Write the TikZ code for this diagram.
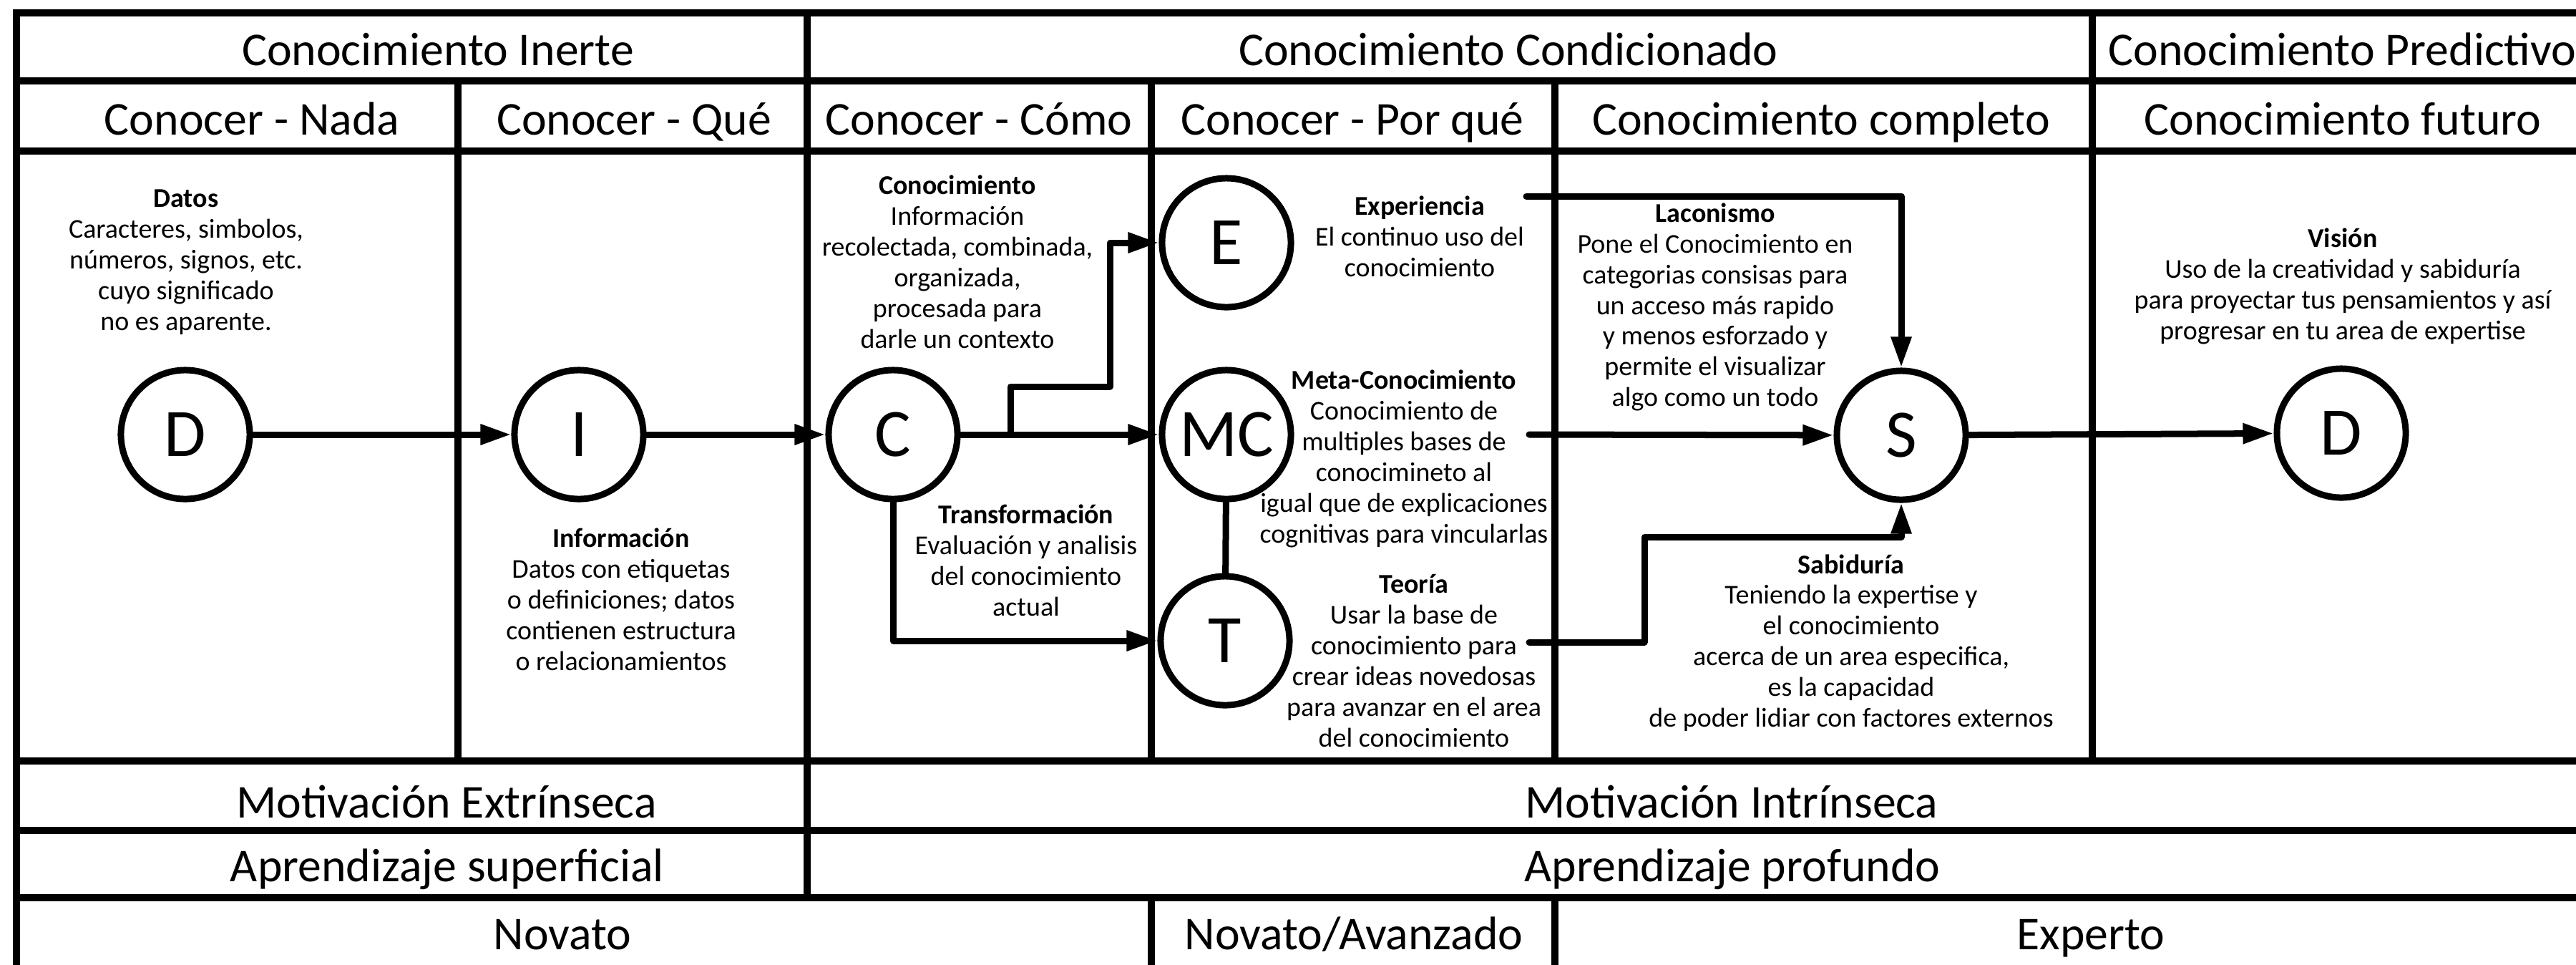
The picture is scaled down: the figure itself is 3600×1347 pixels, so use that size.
\documentclass[tikz,border=0pt]{standalone}
\usepackage{fontspec}
\setmainfont{Carlito}
\usepackage{tikz}
\usetikzlibrary{arrows.meta,positioning}
\tikzset{ring/.style={circle,draw,line width=0.09cm,minimum size=1.8cm,inner sep=0pt,font=\fontsize{27}{30}\selectfont}}
\tikzset{note/.style={align=center,inner sep=0pt,font=\fontsize{10.8}{12.2}\selectfont}}
\tikzset{head/.style={anchor=base,inner sep=0pt,font=\fontsize{18.7}{22}\selectfont}}
\tikzset{tabline/.style={line width=0.1cm,line cap=rect}}
\tikzset{flow/.style={line width=0.09cm,line cap=round,line join=round}}

\begin{document}
\begin{tikzpicture}[x=0.01cm,y=-0.01cm,>={Triangle[length=0.43cm,width=0.27cm]}]
        \useasboundingbox (0,0) rectangle (3600,1347);

        \foreach \y in {18,113,211,1063,1160,1254}
            \draw [tabline] (23,\y) -- (3650,\y);
        \draw [tabline] (23,18) -- (23,1360);
        \draw [tabline] (640,113) -- (640,1063);
        \draw [tabline] (1128,18) -- (1128,1254);
        \foreach \x in {1609,2173} {
            \draw [tabline] (\x,113) -- (\x,1063);
            \draw [tabline] (\x,1254) -- (\x,1360);
        }
        \draw [tabline] (2924,18) -- (2924,1063);

        \node[head] (inerte) at (612,91) {Conocimiento Inerte};
        \node[head] (condic) at (2108,91) {Conocimiento Condicionado};
        \node[head,anchor=base west] (predic) at (2946,91) {Conocimiento Predictivo};

        \node[head] (nada) at (352,188) {Conocer - Nada};
        \node[head] (que) at (886,188) {Conocer - Qué};
        \node[head] (como) at (1368,188) {Conocer - Cómo};
        \node[head] (porque) at (1890,188) {Conocer - Por qué};
        \node[head] (completo) at (2545,188) {Conocimiento completo};
        \node[head] (futuro) at (3274,188) {Conocimiento futuro};

        \node[head] (extr) at (624,1142) {Motivación Extrínseca};
        \node[head] (intr) at (2420,1142) {Motivación Intrínseca};
        \node[head] (superf) at (625,1231) {Aprendizaje superficial};
        \node[head] (profun) at (2421,1231) {Aprendizaje profundo};
        \node[head] (novato) at (786,1326) {Novato};
        \node[head] (avanz) at (1892,1326) {Novato/Avanzado};
        \node[head] (experto) at (2922,1326) {Experto};

        \node[ring] (D) at (259,607) {D};
        \node[ring] (I) at (809,607) {I};
        \node[ring] (C) at (1248,607) {C};
        \node[ring] (E) at (1714,339) {E};
        \node[ring] (MC) at (1714,607) {MC};
        \node[ring] (T) at (1712,895) {T};
        \node[ring] (S) at (2657,608) {S};
        \node[ring] (D2) at (3272,605) {D};

        \node[note] (datos) at (260,366) {\textbf{Datos}\\Caracteres, simbolos,\\números, signos, etc.\\cuyo significado\\no es aparente.};
        \node[note] (info) at (868,837) {\textbf{Información}\\Datos con etiquetas\\o definiciones; datos\\contienen estructura\\o relacionamientos};
        \node[note] (conoc) at (1338,366) {\textbf{Conocimiento}\\Información\\recolectada, combinada,\\organizada,\\procesada para\\darle un contexto};
        \node[note] (transf) at (1434,783) {\textbf{Transformación}\\Evaluación y analisis\\del conocimiento\\actual};
        \node[note] (exper) at (1984,330) {\textbf{Experiencia}\\El continuo uso del\\conocimiento};
        \node[note] (metac) at (1962,641) {\textbf{Meta-Conocimiento}\\Conocimiento de\\multiples bases de\\conocimineto al\\igual que de explicaciones\\cognitivas para vincularlas};
        \node[note] (teoria) at (1976,923) {\textbf{Teoría}\\Usar la base de\\conocimiento para\\crear ideas novedosas\\para avanzar en el area\\del conocimiento};
        \node[note] (lacon) at (2397,429) {\textbf{Laconismo}\\Pone el Conocimiento en\\categorias consisas para\\un acceso más rapido\\y menos esforzado y\\permite el visualizar\\algo como un todo};
        \node[note] (sabid) at (2587,898) {\textbf{Sabiduría}\\Teniendo la expertise y\\el conocimiento\\acerca de un area especifica,\\es la capacidad\\de poder lidiar con factores externos};
        \node[note] (vision) at (3274,400) {\textbf{Visión}\\Uso de la creatividad y sabiduría\\para proyectar tus pensamientos y así\\progresar en tu area de expertise};

        \coordinate (split) at (1412,607);
        \coordinate (lacout) at (2133,274);
        \coordinate (mcout) at (2137,607);
        \coordinate (tout) at (2137,897);

        \draw [flow,->] (D) to [] (I);
        \draw [flow,->] (I) to [] (C);
        \draw [flow,->] (C) to [] (MC);
        \draw [flow,->] (split) |- (1551,540) |- (E);
        \draw [flow,->] (C) |- (T);
        \draw [flow] (MC) to [] (T);
        \draw [flow,->] (lacout) -| (S);
        \draw [flow,->] (mcout) to [] (S);
        \draw [flow,->] (tout) -| (2298,750) -| (S);
        \draw [flow,->] (S) to [] (D2);

    \end{tikzpicture}
\end{document}
